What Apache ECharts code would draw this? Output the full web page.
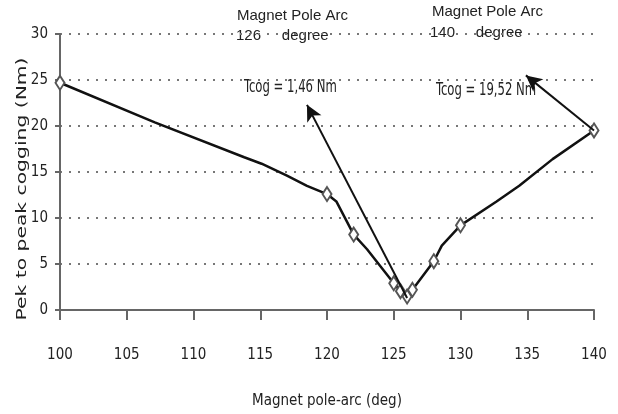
<!DOCTYPE html>
<html lang="en">
<head>
    <meta charset="UTF-8">
    <title>Cogging torque vs magnet pole-arc</title>
    <script src="https://cdn.jsdelivr.net/npm/echarts@6/dist/echarts.min.js"></script>
    <style type="text/css">
        *{margin:0;padding:0;}
        html,body{background:#fff;}
    </style>
</head>
<body>
<div id="myChart" style="width:618px;height:414px"></div>

<script type="text/javascript">
    // pole-arc (deg) and peak-to-peak cogging torque (Nm)
    var poleArc = [100, 107.1, 113.8, 115.1, 117, 118.5, 120, 120.7, 122, 123, 125, 125.5, 126, 126.4, 128, 128.6, 130, 132.7, 134.4, 136.9, 140];
    var cogging = [24.7, 20.4, 16.6, 15.9, 14.6, 13.5, 12.6, 11.8, 8.2, 6.6, 2.9, 2.05, 1.46, 2.2, 5.3, 7.0, 9.2, 11.8, 13.5, 16.4, 19.52];
    // which points carry a diamond marker
    var marked = [1, 0, 0, 0, 0, 0, 1, 0, 1, 0, 1, 1, 1, 1, 1, 0, 1, 0, 0, 0, 1];
    var xTicks = [100, 105, 110, 115, 120, 125, 130, 135, 140];
    var yTicks = [0, 5, 10, 15, 20, 25, 30];

    var narrow = '"Liberation Sans Narrow", "DejaVu Sans Condensed", sans-serif';
    var arial = '"Liberation Sans", Arial, sans-serif';

    var seriesData = [];
    for (var i = 0; i < poleArc.length; i++) {
        seriesData.push({
            value: [poleArc[i], cogging[i]],
            symbol: marked[i] ? 'diamond' : 'none'
        });
    }

    var myChart = echarts.init(document.getElementById('myChart'));
    var option = {
        backgroundColor: '#ffffff',
        animation: false,
        grid: {
            left: 60,
            right: 24,
            top: 34,
            bottom: 102
        },
        xAxis: {
            type: 'value',
            min: xTicks[0],
            max: xTicks[xTicks.length - 1],
            interval: 5,
            name: 'Magnet pole-arc (deg)',
            nameLocation: 'middle',
            nameGap: 84,
            nameTextStyle: {
                fontFamily: narrow,
                fontSize: 15,
                color: '#222'
            },
            axisLine: { lineStyle: { color: '#666', width: 2 } },
            axisTick: { show: true, length: 10, inside: false, lineStyle: { color: '#666', width: 2 } },
            axisLabel: {
                margin: 38,
                fontFamily: narrow,
                fontSize: 15,
                color: '#222'
            },
            splitLine: { show: false }
        },
        yAxis: {
            type: 'value',
            min: yTicks[0],
            max: yTicks[yTicks.length - 1],
            interval: 5,
            axisLine: { show: true, lineStyle: { color: '#666', width: 2 } },
            axisTick: { show: true, length: 5, lineStyle: { color: '#666', width: 2 } },
            axisLabel: {
                margin: 12,
                fontFamily: narrow,
                fontSize: 15,
                color: '#222'
            },
            splitLine: {
                show: true,
                lineStyle: { color: '#777', type: [2, 7], width: 2 }
            }
        },
        series: [{
            type: 'line',
            data: seriesData,
            symbolSize: [9, 14],
            lineStyle: { color: '#111', width: 2.5 },
            itemStyle: { color: '#fff', borderColor: '#555', borderWidth: 2 },
            z: 3,
            markLine: {
                silent: true,
                symbol: ['none', 'arrow'],
                symbolSize: [12, 16],
                label: { show: false },
                lineStyle: { color: '#111', width: 2, type: 'solid' },
                data: [
                    [{ coord: [126, 1.3] }, { coord: [118.5, 22.3] }],
                    [{ coord: [140, 19.52] }, { coord: [134.9, 25.5] }]
                ]
            }
        }],
        graphic: [
            // y axis title, stretched along its length like the original
            { type: 'text', x: 22, y: 189, rotation: Math.PI / 2, scaleX: 1.45, style: { text: 'Pek to peak cogging (Nm)', font: '14px "DejaVu Sans", sans-serif', fill: '#222', align: 'center', verticalAlign: 'middle' } },
            { type: 'text', left: 237, top: 8, style: { text: 'Magnet Pole Arc', font: '15px ' + arial, fill: '#222' } },
            { type: 'text', left: 236, top: 28, style: { text: '126     degree', font: '15px ' + arial, fill: '#222' } },
            { type: 'text', left: 432, top: 4, style: { text: 'Magnet Pole Arc', font: '15px ' + arial, fill: '#222' } },
            { type: 'text', left: 430, top: 25, style: { text: '140     degree', font: '15px ' + arial, fill: '#222' } },
            { type: 'text', x: 244, y: 78, scaleX: 0.72, style: { text: 'Tcog = 1,46 Nm', font: '18px ' + narrow, fill: '#222' } },
            { type: 'text', x: 436, y: 81, scaleX: 0.72, style: { text: 'Tcog = 19,52 Nm', font: '18px ' + narrow, fill: '#222' } }
        ]
    };
    myChart.setOption(option);
</script>
</body>
</html>
